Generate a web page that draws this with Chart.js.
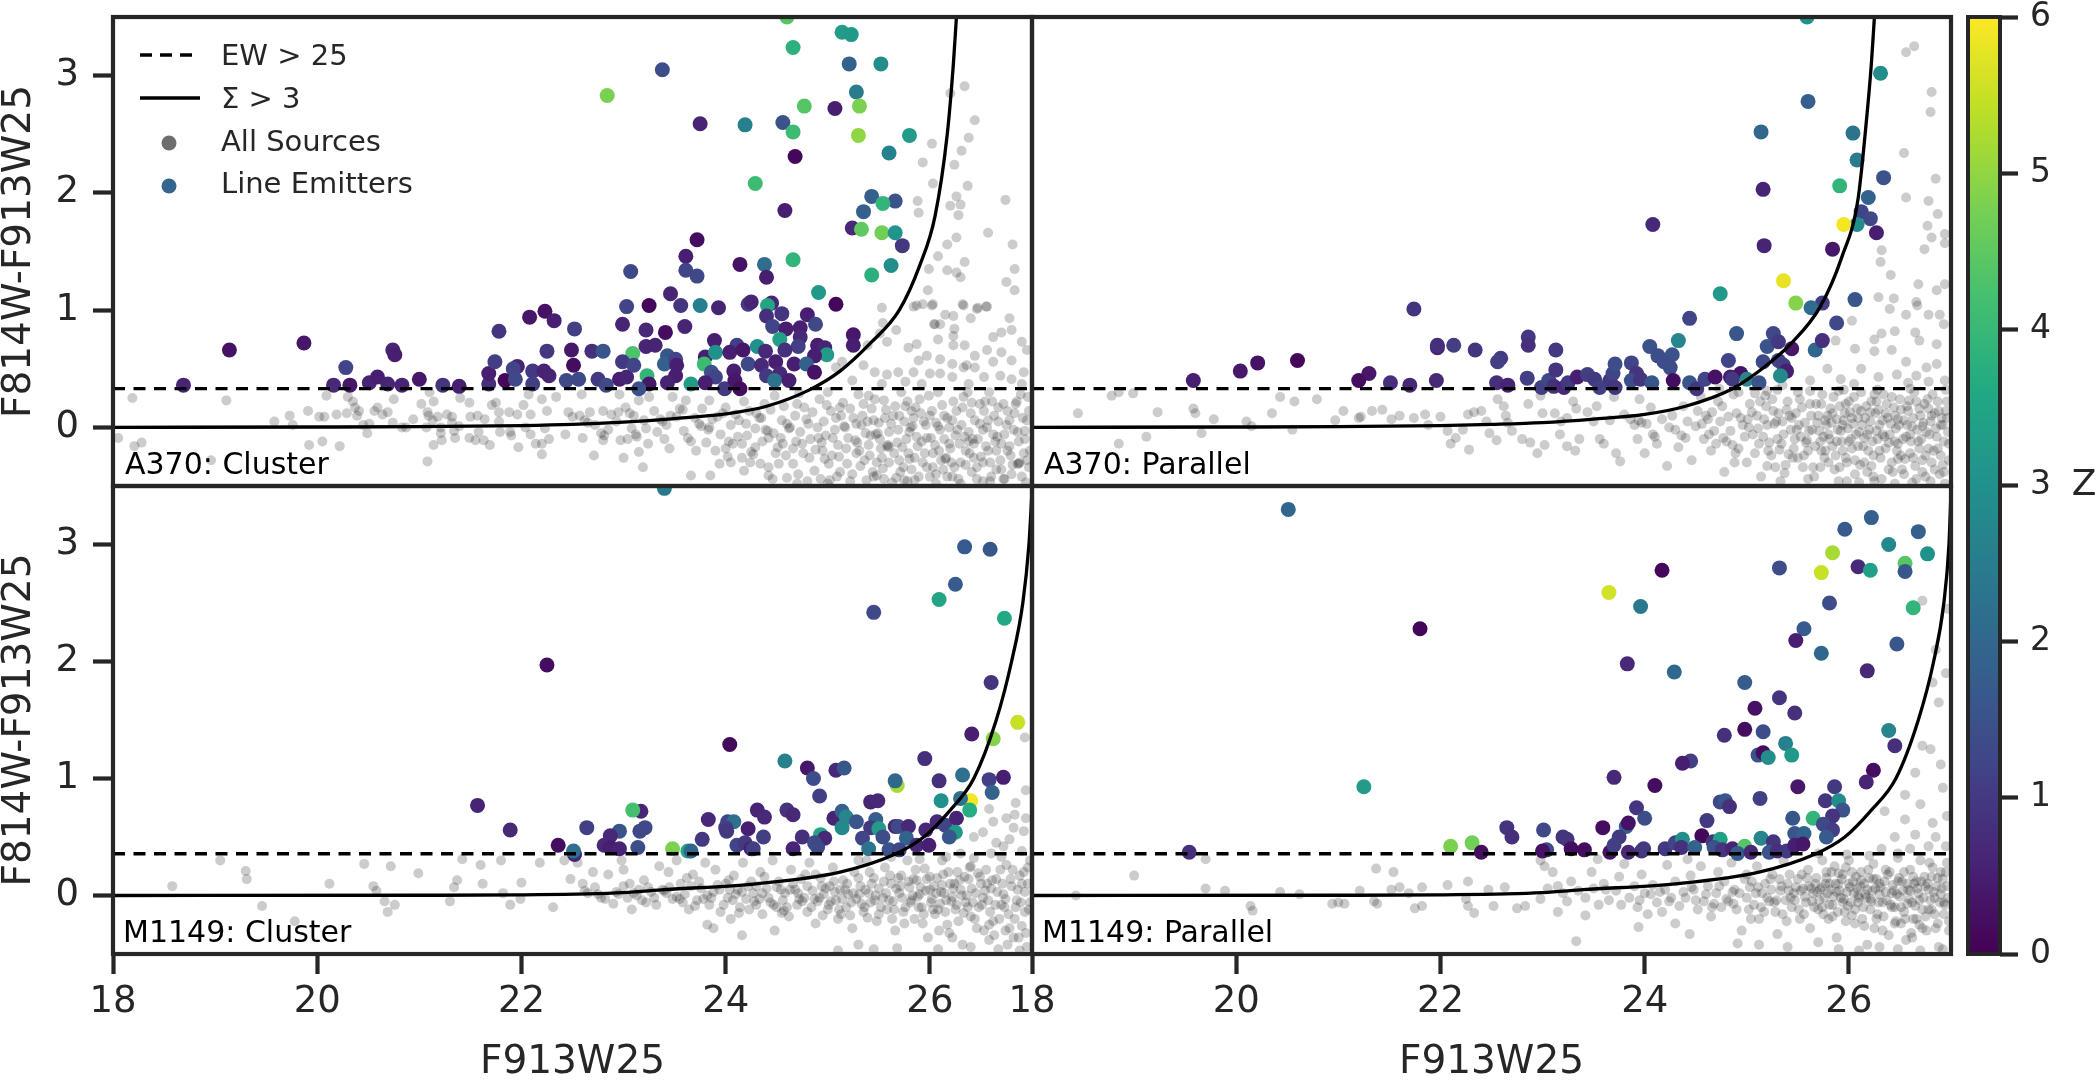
<!DOCTYPE html>
<html lang="en">
  <head>
    <meta charset="UTF-8" />
    <title>F814W-F913W25 colour magnitude</title>
    <script src="https://cdn.jsdelivr.net/npm/chart.js"></script>
    <style>
      body { margin: 0; background: #fff; }
      canvas { position: absolute; }
    </style>
  </head>
  <body>
    <canvas id="a370Cluster" width="1040" height="500" style="left:0;top:0"></canvas>
    <canvas id="a370Parallel" width="965" height="500" style="left:1000px;top:0"></canvas>
    <canvas id="m1149Cluster" width="1040" height="606" style="left:0;top:476px"></canvas>
    <canvas id="m1149Parallel" width="965" height="606" style="left:1000px;top:476px"></canvas>
    <canvas id="colorbar" width="135" height="1000" style="left:1960px;top:0"></canvas>

    <script>
      const xTicks = [18, 20, 22, 24, 26];
      const yTicks = [0, 1, 2, 3];
      const zTicks = [0, 1, 2, 3, 4, 5, 6];
      const viridisStops = ["#440154", "#482475", "#414487", "#355f8d", "#2a788e", "#21918c", "#22a884", "#44bf70", "#7ad151", "#bddf26", "#fde725"];

      const ewCutTop = 0.33;
      const ewCutBottom = 0.357;

      const a370ClusterCurve = [[18,0],[20,0.003],[21,0.006],[22,0.015],[22.5,0.025],[23,0.045],[23.5,0.075],[24,0.115],[24.4,0.18],[24.82,0.32],[25.12,0.48],[25.42,0.72],[25.7,1],[25.9,1.38],[26.05,1.8],[26.17,2.5],[26.23,3.1],[26.26,3.5]];
      const a370ParallelCurve = [[18,0],[20,0.003],[21,0.006],[22,0.015],[22.5,0.025],[23,0.04],[23.5,0.07],[24,0.11],[24.4,0.18],[24.86,0.33],[25.15,0.5],[25.45,0.73],[25.72,1.03],[25.93,1.45],[26.09,1.95],[26.17,2.6],[26.22,3.1],[26.25,3.5]];
      const m1149ClusterCurve = [[18,0],[21,0.002],[22,0.006],[23,0.025],[23.4,0.05],[24.3,0.1],[25.12,0.2],[25.65,0.35],[25.94,0.5],[26.2,0.73],[26.43,1],[26.65,1.5],[26.8,2],[26.91,2.5],[26.97,3],[27,3.45]];
      const m1149ParallelCurve = [[18,0],[21,0.002],[22,0.006],[23,0.025],[23.4,0.05],[24.3,0.1],[25.12,0.2],[25.66,0.35],[25.96,0.5],[26.22,0.73],[26.46,1],[26.68,1.5],[26.83,2],[26.93,2.5],[26.98,3],[27,3.45]];

      // [mag, colour, z]
      const a370ClusterLines = [[24.6,3.5,4.4],[25.14,3.37,3.3],[25.23,3.35,3.2],[24.66,3.24,3.8],[23.38,3.05,1.4],[25.21,3.1,1.9],[25.52,3.1,2.9],[22.84,2.83,4.8],[25.28,2.86,2.5],[24.77,2.74,4.4],[25.31,2.74,4.8],[25.07,2.72,0.5],[23.75,2.59,0.6],[24.19,2.58,2.6],[24.56,2.6,1.5],[24.66,2.52,4.1],[25.3,2.49,5],[25.8,2.49,3.3],[25.6,2.34,2.6],[24.68,2.31,0.1],[24.29,2.08,4.1],[25.43,1.97,1.8],[25.66,1.93,1.5],[25.54,1.91,3.9],[25.35,1.84,1.8],[24.58,1.85,0.5],[25.24,1.7,0.7],[25.33,1.69,4.5],[25.53,1.66,4.7],[25.66,1.66,3.1],[25.73,1.55,1],[23.72,1.6,0.2],[23.61,1.46,0.5],[23.61,1.34,1.2],[23.72,1.29,1.3],[23.07,1.33,1.3],[24.14,1.39,0.3],[24.38,1.39,2.1],[24.4,1.28,0.5],[24.66,1.43,3.9],[25.62,1.38,2.9],[25.43,1.3,3.8],[24.91,1.15,3.2],[25.08,1.05,0.1],[23.46,1.14,0.6],[23.03,1.03,1.2],[23.25,1.04,0.1],[23.56,1.04,0.9],[23.75,1.04,2.6],[23.93,1.02,0.6],[24.22,1.05,1],[24.25,1.07,0.6],[24.45,1.06,0.6],[24.41,1.04,3.5],[24.4,0.95,0.8],[24.55,0.97,0.9],[24.8,0.96,0.5],[22.23,0.99,0.3],[22.08,0.94,0.4],[22.32,0.91,0.5],[21.78,0.82,0.9],[22.52,0.84,1.1],[22.99,0.88,0.6],[23.22,0.83,0.7],[23.41,0.81,0.2],[23.6,0.86,0.6],[24.46,0.86,1.2],[24.59,0.84,0.5],[24.73,0.85,0.5],[24.88,0.88,1.3],[25.25,0.79,0.4],[25.25,0.7,0.5],[24.73,0.77,0.7],[23.89,0.74,0.5],[24.53,0.75,3.4],[24.31,0.69,3],[24.11,0.7,1.1],[23.22,0.69,0.6],[23.31,0.7,0.6],[24.71,0.69,1.1],[24.9,0.7,0.5],[24.97,0.68,0.6],[24.99,0.62,3.3],[19.14,0.66,0.3],[19.87,0.72,0.4],[20.74,0.66,0.6],[20.76,0.62,0.5],[22.25,0.65,1],[22.49,0.66,0.4],[22.69,0.65,0.8],[22.8,0.65,1.6],[23.09,0.63,4.3],[23.43,0.61,1.6],[23.8,0.6,0.5],[23.9,0.64,3],[24.04,0.64,0.5],[24.17,0.66,0.4],[24.39,0.65,0.7],[24.58,0.66,0.8],[24.87,0.61,0.5],[20.28,0.51,1.2],[18.69,0.36,0.6],[20.16,0.36,0.7],[20.32,0.36,0.4],[20.51,0.38,0.6],[20.59,0.43,0.5],[20.69,0.37,0.6],[20.83,0.36,0.6],[21,0.41,0.4],[21.23,0.36,0.9],[21.39,0.35,0.5],[21.68,0.37,0.8],[21.68,0.46,0.5],[21.84,0.4,0.1],[21.74,0.56,1.1],[21.96,0.52,0.6],[21.92,0.5,1.2],[21.94,0.41,1.3],[22.11,0.48,1],[22.11,0.37,1.1],[22.22,0.48,0.6],[22.27,0.44,0.6],[22.44,0.4,1.3],[22.56,0.41,1.3],[22.51,0.53,0.2],[22.75,0.41,1],[22.83,0.36,1.3],[22.96,0.41,0.5],[23.03,0.43,0.6],[22.99,0.56,1],[23.1,0.53,1.2],[23.23,0.44,3.9],[23.25,0.37,0.4],[23.15,0.33,1.5],[23.4,0.54,1.8],[23.51,0.58,1.2],[23.52,0.53,0.5],[23.51,0.44,0.5],[23.43,0.38,0.6],[23.66,0.37,3.3],[23.79,0.54,4.1],[23.86,0.47,1.5],[23.9,0.43,1.2],[23.8,0.38,0.5],[23.99,0.33,1],[24.08,0.48,0.5],[24.09,0.4,0.4],[24.14,0.33,0.2],[24.22,0.54,1.3],[24.35,0.53,0.7],[24.4,0.44,1],[24.49,0.56,0.5],[24.53,0.46,0.7],[24.48,0.4,2.3],[24.62,0.4,0.5],[24.67,0.54,0.5],[24.79,0.54,1.8],[24.87,0.47,0.3]];
      const a370ParallelLines = [[25.59,3.5,3],[26.31,3.02,2.9],[25.6,2.78,1.8],[25.14,2.52,2],[26.04,2.51,2.3],[26.08,2.28,2.5],[25.16,2.03,0.6],[25.91,2.06,3.9],[26.34,2.13,1.5],[26.19,1.96,1.9],[26.12,1.84,1.2],[26.21,1.78,1.3],[26.08,1.73,2.9],[25.95,1.73,5.9],[26.27,1.66,0.5],[24.08,1.73,0.7],[25.17,1.55,0.6],[25.84,1.52,0.4],[25.36,1.25,5.8],[24.74,1.14,3.2],[25.48,1.06,4.9],[25.74,1.06,1.1],[25.63,1.02,2.1],[26.06,1.09,1.6],[21.74,1.01,0.9],[24.44,0.93,1.2],[25.88,0.89,1.3],[24.9,0.8,1.6],[25.26,0.8,1.3],[24.33,0.74,2.7],[22.86,0.77,1],[22.86,0.7,0.8],[22.13,0.7,1.1],[21.97,0.68,0.6],[21.97,0.7,0.8],[22.34,0.66,0.9],[23.13,0.66,1],[22.59,0.59,1],[22.56,0.56,1.1],[24.05,0.69,1.5],[24.13,0.61,1.4],[24.27,0.62,1.5],[24.19,0.56,1.4],[24.25,0.51,1.4],[25.2,0.69,1.5],[25.31,0.73,1],[25.44,0.67,0.4],[25.67,0.66,2],[25.74,0.74,0.8],[20.6,0.57,0.1],[20.21,0.55,0.3],[20.04,0.48,0.4],[19.58,0.4,0.5],[21.3,0.46,0.4],[21.2,0.4,0.2],[21.51,0.38,0.8],[21.7,0.36,0.7],[21.96,0.4,0.7],[22.55,0.38,0.8],[22.66,0.36,0.6],[22.85,0.42,1.1],[22.99,0.34,1.1],[23.06,0.4,1.3],[23.11,0.35,0.8],[23.13,0.49,0.9],[23.21,0.34,0.7],[23.25,0.38,1],[23.34,0.43,0.5],[23.44,0.45,1.1],[23.51,0.41,1],[23.56,0.34,1.1],[23.66,0.4,1],[23.69,0.46,1.2],[23.71,0.54,1.4],[23.71,0.34,0.9],[23.87,0.55,1.2],[23.92,0.46,0.9],[23.87,0.4,1.4],[23.96,0.41,0.9],[24.07,0.38,1.6],[24.28,0.4,0.2],[24.44,0.38,1.6],[24.51,0.33,0.9],[24.59,0.41,1.2],[24.69,0.43,0.3],[24.82,0.57,1.2],[24.84,0.43,0.5],[24.94,0.46,0.3],[24.86,0.41,1],[25,0.41,2.7],[25.12,0.38,1.5],[25.16,0.56,1.3],[25.31,0.57,1.2],[25.36,0.53,1.1],[25.39,0.48,0.5],[25.33,0.44,2.8]];
      const m1149ClusterLines = [[23.4,3.48,2.4],[26.34,2.98,1.7],[26.59,2.96,1.6],[26.25,2.66,1.7],[26.09,2.53,3.5],[25.45,2.42,1.3],[26.73,2.37,3.6],[22.25,1.97,0.2],[26.6,1.82,0.9],[26.86,1.48,5.5],[26.41,1.38,0.5],[26.62,1.34,4.9],[24.04,1.29,0.1],[25.95,1.17,0.8],[24.58,1.15,2.6],[24.8,1.09,0.4],[25.08,1.07,0.7],[25.16,1.09,1.6],[24.86,1,1.4],[25.68,0.94,5.2],[25.66,0.98,2],[26.09,0.98,0.8],[26.32,1.03,2.2],[26.58,0.99,1.1],[26.72,1.01,0.5],[26.61,0.88,1.9],[24.92,0.85,1.1],[21.57,0.77,0.6],[25.42,0.8,0.6],[25.49,0.81,0.7],[26.4,0.81,5.9],[26.11,0.81,3],[26.3,0.83,2.2],[26.39,0.73,3.7],[23.17,0.72,0.6],[23.09,0.73,4.2],[24.31,0.73,0.6],[24.38,0.67,0.7],[24.6,0.73,0.9],[24.66,0.69,0.7],[23.83,0.65,0.7],[24.02,0.63,1.2],[24.08,0.63,2.2],[25.06,0.66,0.6],[25.14,0.72,1.8],[25.18,0.67,2.7],[25.28,0.63,1.6],[25.47,0.65,1.8],[21.89,0.56,0.7],[22.64,0.58,1.1],[22.96,0.55,1.5],[23.21,0.58,1.3],[23.16,0.55,1.3],[24,0.58,1.1],[24.01,0.55,1],[24.22,0.57,0.5],[25.14,0.58,2.8],[25.42,0.58,1],[25.5,0.57,3.3],[25.66,0.59,0.7],[25.69,0.59,1.3],[25.79,0.59,0.7],[25.96,0.56,0.7],[26.07,0.63,0.7],[26.15,0.6,1.2],[26.26,0.66,0.6],[26.25,0.54,3.2],[26.19,0.5,1.6],[24.93,0.52,3.5],[24.97,0.49,0.7],[24.75,0.5,0.8],[24.37,0.5,1.1],[23.77,0.48,1],[22.87,0.51,0.7],[25.34,0.49,1.2],[25.54,0.5,1.4],[25.77,0.49,1.9],[24.87,0.45,1.3],[24.9,0.41,1.3],[22.81,0.43,0.7],[22.87,0.41,0.5],[22.96,0.4,0.6],[22.36,0.43,0.2],[22.52,0.35,0.6],[22.51,0.38,2.2],[23.14,0.41,1.4],[23.48,0.4,4.8],[23.63,0.38,3.6],[23.66,0.38,2],[24.11,0.43,1.2],[24.19,0.45,1],[24.25,0.4,0.5],[24.27,0.4,1.1],[24.66,0.4,0.6],[25.4,0.4,2.3],[25.6,0.39,1.5],[25.7,0.39,1.2],[25.87,0.43,0.7],[25.99,0.43,0.5]];
      const m1149ParallelLines = [[20.51,3.3,2],[26.22,3.23,1.8],[25.96,3.13,1.7],[26.68,3.11,1.8],[26.39,3,2.8],[25.84,2.93,5.2],[26.77,2.92,3],[26.55,2.84,4.4],[26.09,2.81,0.7],[26.21,2.78,3.4],[26.55,2.77,1.6],[25.32,2.8,1.4],[24.17,2.78,0.1],[25.73,2.76,5.5],[23.65,2.59,5.6],[23.96,2.47,2.4],[26.63,2.46,3.9],[25.81,2.5,1.4],[21.8,2.28,0.1],[25.56,2.28,1.7],[25.48,2.18,0.5],[26.47,2.15,1.6],[25.73,2.07,2],[23.83,1.98,0.7],[24.29,1.91,2],[26.18,1.92,0.7],[24.98,1.82,1.7],[25.32,1.69,0.9],[25.08,1.6,0.3],[25.47,1.56,0.8],[24.98,1.42,0.2],[25.16,1.4,1.4],[24.78,1.37,0.8],[26.39,1.41,2.7],[26.45,1.28,0.8],[25.38,1.3,2.6],[25.11,1.2,1.5],[25.16,1.22,0.2],[25.21,1.18,2.9],[25.44,1.2,3.2],[24.45,1.15,1.1],[24.37,1.13,0.5],[26.24,1.07,0.2],[26.17,0.97,0.6],[21.25,0.93,3.3],[23.7,1.01,0.7],[24.1,0.94,0.2],[25.5,0.93,0.4],[25.86,0.93,1],[25.13,0.83,1.1],[24.74,0.8,1.3],[24.79,0.81,1.6],[24.83,0.76,0.8],[25.77,0.81,0.9],[25.9,0.81,2.9],[23.92,0.75,0.9],[25.94,0.73,1.5],[24,0.66,1.4],[23.82,0.59,1.8],[23.84,0.62,0.3],[24.61,0.64,1],[25.45,0.66,1.6],[25.65,0.66,3.9],[25.84,0.68,0.9],[25.75,0.61,1.3],[25.84,0.56,1.1],[22.65,0.58,0.9],[22.7,0.5,0.8],[23.01,0.56,1.3],[23.59,0.58,0.2],[23.75,0.5,1],[23.2,0.5,0.9],[23.24,0.48,0.9],[24.56,0.51,0.1],[25.14,0.49,2.7],[25.47,0.53,1.6],[25.56,0.53,1.9],[25.78,0.5,1.7],[22.1,0.42,4.8],[22.31,0.45,4.7],[19.54,0.37,0.8],[22.4,0.37,0.2],[23.04,0.39,1.4],[23,0.38,0.3],[23.28,0.4,0.2],[23.41,0.39,0.2],[23.66,0.37,0.3],[23.7,0.43,1.1],[23.84,0.37,0.7],[23.97,0.38,0.8],[23.99,0.4,1],[24.2,0.4,1],[24.3,0.45,1.2],[24.37,0.48,2.9],[24.36,0.41,0.8],[24.49,0.41,1.9],[24.67,0.46,0.9],[24.74,0.48,3.4],[24.68,0.41,1.5],[24.76,0.39,0.9],[24.86,0.4,0.6],[24.98,0.42,4.4],[24.91,0.36,1.7],[25.04,0.37,0.7],[25.26,0.46,0.9],[25.22,0.37,1.5],[25.3,0.38,0.8],[25.39,0.38,1],[25.47,0.43,0.5],[25.55,0.44,0.4]];

      // all sources, read off the crops, dense parts are estimates
      const a370ClusterAll = [[18.19,.25],[19.11,.23],[18.05,-.09],[18.21,-.16],[18.28,-.13],[18.96,-.28],[19.58,.05],[19.73,.1],[19.76,.02],[19.91,.14],[20.02,.09],[20.07,.09],[20.19,.11],[20.09,.27],[20.3,.26],[20.35,.22],[20.37,.17],[20.41,.14],[20.39,.1],[20.29,.12],[19.92,-.15],[20.05,-.12],[20.22,-.16],[20.45,.02],[20.51,.03],[20.49,-.05],[20.56,.14],[20.59,.17],[20.64,.11],[20.69,.13],[20.75,.24],[20.74,.04],[20.83,0],[20.87,0],[20.94,.07],[21.02,.2],[21.08,-.29],[21.07,0],[21.08,.13],[21.09,.1],[21.13,.06],[21.14,.22],[21.1,.3],[21.18,.09],[21.21,0],[21.21,-.05],[21.14,-.15],[21.22,-.11],[21.27,.11],[21.32,.09],[21.32,.04],[21.34,-.03],[21.35,-.09],[21.4,.25],[21.39,.01],[21.49,.21],[21.5,.09],[21.57,.1],[21.64,.07],[21.49,-.09],[21.58,-.04],[21.55,-.11],[21.63,-.11],[21.69,-.15],[21.71,.19],[21.75,.21],[21.78,.13],[21.79,-.04],[21.78,.05],[21.88,.13],[21.96,.11],[21.89,-.04],[21.9,-.07],[21.97,-.17],[22.02,.19],[22.09,.11],[22.25,.14],[22.04,0],[22.09,-.06],[22.2,-.23],[22.14,-.14],[22.2,-.14],[22.27,-.1],[22.23,-.01],[22.34,.26],[22.07,.28],[22.2,.24],[22.43,-.06],[22.46,.13],
        [22.59,.28],[22.96,.28],[23.25,.26],[23.48,.26],[23.61,.23],[23.15,.23],[23.02,.17],[23.3,.14],[22.88,.11],[22.8,.14],[22.67,.13],[22.57,.1],[22.5,.09],[23.1,.1],[23.46,.1],[23.59,-.03],[23.84,0],[23.81,-.13],[23.71,-.2],[23.04,-.1],[23.24,-.14],[23.15,-.21],[22.8,-.11],[22.6,-.09],[22.71,-.24],[23,-.26],[23.19,-.34],[23.66,-.41],[23.85,-.41],[23.94,-.31],[24.18,-.37],[24.05,-.3],[24.16,-.26],[24.42,-.34],[24.52,-.31],[24.6,-.43],[24.42,-.41],[23.84,.23],[24,.17],[24.1,.11],[24.2,.03],[24.29,-.01],[24.42,-.09],[24.55,.06],[24.62,-.01],[24.16,-.14],[24.29,-.17],[24,-.18],[24.51,-.17],[24.59,-.24],[24.75,-.14],[24.91,-.09],[24.82,-.26],[25.01,-.31],[25.17,0],[25.34,.1],[25.47,-.06],[25.58,-.16],[25.32,-.33],[25.81,0],[25.97,-.09],[26.15,-.27],[26.43,-.26],[26.87,-.31],[26.57,.06],
        [22.72,.02],[22.85,-.02],[22.93,.05],[23.08,-.01],[23.2,.06],[23.33,-.04],[23.42,.02],[23.52,.09],[23.7,.08],[23.77,.16],[23.92,.09],[23.95,-.06],[24.05,.02],[24.12,-.08],[24.23,.14],[24.35,.08],[24.38,.2],[24.47,-.05],[24.48,.27],[24.68,.1],[24.7,.2],[24.73,-.04],[24.81,.03],[24.85,.13],[24.92,.24],[24.96,.05],[25.03,.14],[25.07,-.02],[25.1,-.15],[25.15,.21],[25.2,-.09],[25.25,.08],[25.28,-.22],[25.3,.28],[25.37,-.05],[25.4,-.15],[25.43,.16],[25.5,.04],[25.53,-.26],[25.55,.23],[25.6,-.04],[25.64,.1],[25.68,-.13],[25.72,.3],[25.74,-.34],[25.76,.18],[25.79,-.22],[25.84,.08],[25.87,-.08],[25.9,.24],[25.93,-.3],[25.96,.02],[26,-.42],[26.02,.14],[26.05,-.15],[26.08,.3],[26.1,-.02],[26.13,-.36],[26.17,.08],[26.2,-.18],[26.23,.22],[26.25,-.07],[26.28,-.44],[26.31,.02],[26.35,-.2],[26.37,.3],[26.4,.12],[26.42,-.1],[26.46,-.34],[26.49,.2],[26.52,-.02],[26.55,-.16],[26.58,.3],[26.6,-.42],[26.63,.1],[26.66,-.08],[26.69,-.28],[26.72,.2],[26.75,.02],[26.78,-.16],[26.8,-.4],[26.83,.12],[26.86,-.04],[26.89,.28],[26.92,-.22],[26.95,.06],[26.97,-.34],[25.02,-.45],[24.7,-.48],[24.95,-.2],[25.12,-.38],[25.22,-.46],[25.45,-.42],[25.63,-.47],[25.85,-.45],[26.06,-.48],[26.22,-.42],[26.52,-.46],[26.72,-.44],[26.94,-.47],[25.7,-.28],[25.48,-.3],[26.3,-.3],[26.65,-.2],[26.38,-.12],
        [22.62,.06],[22.65,.04],[22.78,-.05],[22.81,-.07],[22.95,.13],[22.97,-.11],[23.06,.12],[23.12,-.06],[23.13,-.08],[23.22,-.01],[23.36,.07],[23.38,.05],[23.4,-.1],[23.45,-.18],[23.55,.16],[23.58,.15],[23.63,-.09],[23.66,-.12],[23.74,.03],[23.76,.01],[23.83,-.02],[23.87,.07],[23.9,-.2],[23.97,.12],[24.03,-.12],[24.07,-.14],[24.13,.06],[24.18,.22],[24.21,-.07],[24.25,-.21],[24.27,-.23],[24.33,.08],[24.36,-.12],[24.39,-.02],[24.41,-.03],[24.44,.15],[24.49,-.22],[24.54,-.09],[24.57,.18],[24.6,.03],[24.63,0],[24.66,-.31],[24.69,-.12],[24.72,.29],[24.76,-.22],[24.79,.07],[24.83,-.1],[24.87,-.37],[24.9,0],[24.94,-.13],[24.97,-.27],[24.99,.19],[25.05,-.09],[25.08,.08],[25.11,-.25],[25.13,.1],[25.16,.01],[25.19,-.31],[25.22,.16],[25.27,-.11],[25.29,-.13],[25.33,.02],[25.36,-.28],[25.39,.05],[25.42,-.07],[25.44,-.38],[25.46,.24],[25.49,-.05],[25.52,-.18],[25.56,.08],[25.59,-.15],[25.6,-.17],[25.66,.18],[25.69,-.02],[25.71,-.38],[25.75,.05],[25.77,-.1],[25.8,-.27],[25.82,.14],[25.83,.01],[25.88,-.16],[25.91,.12],[25.95,-.22],[25.99,.27],[26.01,-.09],[26.03,-.34],[26.06,.04],[26.09,-.2],[26.12,.19],[26.14,-.1],[26.16,-.26],[26.19,0],[26.21,-.3],[26.26,.14],[26.29,-.14],[26.33,.26],[26.34,-.08],[26.39,-.22],[26.41,-.38],[26.44,.06],[26.47,-.1],[26.5,-.25],[26.53,.14],[26.56,0],[26.59,-.3],[26.61,.22],[26.64,-.12],[26.67,.05],[26.7,-.36],[26.73,-.06],[26.76,.14],[26.79,-.24],[26.82,-.02],[26.85,.22],[26.86,-.31],[26.88,-.3],[26.91,.08],[26.93,-.1],[26.96,.26],[26.98,-.2],[25,.3],[24.8,-.46],[25.4,.27],[25,-.48],[25.55,-.44],[25.78,-.46],
        [24.3,.12],[24.02,-.25],[24.24,-.3],[24.34,-.31],[24.46,-.44],[24.56,-.14],[24.66,-.18],[24.71,-.4],[24.77,.17],[24.88,-.19],[24.93,-.44],[24.98,-.07],[25.04,-.24],[25.09,-.42],[25.12,.17],[25.18,-.18],[25.24,-.4],[25.28,.03],[25.31,-.2],[25.35,.2],[25.38,-.45],[25.41,-.24],[25.45,.06],[25.48,-.41],[25.51,-.1],[25.54,-.35],[25.57,.15],[25.6,-.3],[25.62,.03],[25.65,-.22],[25.67,-.43],[25.7,.1],[25.73,-.17],[25.75,-.45],[25.78,.22],[25.8,-.04],[25.82,-.36],[25.85,-.26],[25.86,.17],[25.89,-.42],[25.92,-.12],[25.94,.05],[25.97,-.34],[26,.1],[26.03,-.22],[26.06,-.4],[26.08,.01],[26.11,-.28],[26.14,.1],[26.17,-.42],[26.19,-.14],[26.22,.06],[26.24,-.34],[26.27,-.02],[26.3,-.48],[26.32,.17],[26.35,-.32],[26.38,-.04],[26.41,.21],[26.43,-.14],[26.46,-.44],[26.49,.03],[26.52,-.3],[26.54,.22],[26.57,-.2],[26.59,-.46],[26.62,-.06],[26.65,-.36],[26.67,.17],[26.7,-.14],[26.73,-.44],[26.76,-.2],[26.78,.06],[26.81,-.32],[26.84,.2],[26.87,-.12],[26.9,-.42],[26.93,-.03],[26.95,-.28],[26.97,.14],
        [25.53,1.02],[25.84,1.03],[25.93,1.05],[26.03,1.05],[26.15,.96],[26.23,.95],[26.32,1.05],[26.47,1.02],[26.56,1.03],[26.78,.93],[25.54,.89],[26.04,.88],[26.1,.88],[26.24,.84],[26.23,.78],[26.4,.93],[25.51,.8],[25.67,.83],[25.58,.73],[25.39,.7],[25.79,.68],[25.87,.71],[26.08,.75],[26.23,.7],[26.34,.7],[26.62,.77],[26.7,.81],[26.8,.83],[26.9,.73],[25.97,.61],[25.89,.57],[26.1,.58],[26.22,.54],[26.36,.53],[26.44,.61],[26.56,.66],[26.7,.64],[26.62,.56],[26.8,.57],[26.95,.66],[26.33,.51],[26.44,.51],[26.92,.47],[26.8,.41],[25.84,.47],[26,.46],[26.1,.46],[26.22,.43],[26.53,.43],[26.69,.44],[25.69,.47],[25.58,.45],[25.46,.47],[25.35,.53],[25.14,.56],[25.08,.51],[25.24,.4],[25.53,.37],[25.76,.39],[25.92,.37],[26.9,.37],[26.38,.37],
        [26.34,2.91],[26.2,2.85],[26.44,2.62],[26.38,2.47],[26.02,2.42],[26.31,2.36],[25.93,2.26],[26.24,2.24],[26.37,2.06],[26.03,2.08],[26.74,1.94],[25.88,1.93],[26.26,1.97],[26.2,1.89],[26.3,1.9],[25.89,1.83],[26.28,1.81],[26.57,1.66],[26.26,1.62],[26.17,1.56],[26.81,1.56],[26.08,1.46],[26.34,1.41],[25.99,1.35],[26.17,1.34],[26.26,1.32],[26.83,1.35],[26.3,1.28],[26.75,1.24],[25.98,1.17],[26.83,1.17],[25.87,1.04],[26.02,1.04],[26.33,1.04],[26.55,1.03],[26.46,1.01],[26.05,.88]];

      const a370ParallelAll = [[18.85,.3],[18.78,.27],[18.45,.12],[18.99,.29],[19.23,.13],[19.58,.16],[19.6,.12],[19.12,-.08],[18.85,-.14],[19.66,-.05],[19.78,.07],[20.1,.05],[20.15,.01],[20.35,.12],[20.43,.26],[20.57,.22],[20.79,.24],[20.55,-.02],[20.97,.06],[21.05,.14],[21.22,.09],[21.33,.14],[21.2,.08],[21.43,.15],[21.52,.07],[21.6,.1],[21.74,.08],[21.85,.11],[21.88,.02],[22,.09],[22.07,-.03],[22.1,-.14],[22.15,-.09],[22.22,-.02],[22.27,.11],[22.33,.13],[22.4,.14],[22.28,-.19],[22.45,.05],[22.48,-.05],[22.56,.24],[22.62,.18],[22.64,.1],[22.66,.04],[22.7,-.03],[22.8,-.1],[22.86,.2],[22.88,-.13],[22.98,.27],[23,.12],[22.95,-.22],[23.02,-.15],[22.55,-.11],[23.12,.12],[23.17,-.06],[23.18,.05],[23.24,.08],[23.24,-.16],[23.3,.22],[23.33,.16],[23.36,-.1],[23.32,-.2],[23.44,.13],[23.5,.05],[23.53,.18],[23.56,-.1],[23.6,-.14],[23.66,.06],[23.7,.26],[23.72,-.22],[23.76,-.29],[23.8,.11],[23.86,.07],[23.9,.02],[23.93,-.1],[23.95,.24],[24,-.22],[24.02,.03],[24.06,.17],[24.12,-.14],[24.17,.07],[24.22,-.33],[24.27,.1],[24.3,-.02],[24.33,-.17],[24.38,.18],[24.42,.05],[24.46,-.28],[24.5,.01],[24.55,.26],[24.58,-.1],[24.6,.1],[24.65,-.2],[24.68,-.03],[24.72,.22],[24.74,.05],[24.78,-.38],[24.8,-.12],[24.84,-.03],[24.87,.28],[24.9,.12],[24.92,-.18],[24.96,.02],[25,-.3],[25.03,.2],[25.06,-.06],[25.1,.1],[25.12,-.14],[25.14,-.42],[25.18,.27],[25.2,.02],[25.24,-.24],[25.26,.14],[25.3,-.1],[25.33,-.46],[25.35,.05],[25.38,-.32],[25.4,.22],[25.43,-.02],[25.46,-.18],[25.48,.12],[25.5,.3],[25.53,-.08],[25.55,-.34],[25.57,.04],[25.6,-.2],[25.62,.2],[25.64,-.02],[25.66,-.42],[25.7,.1],[25.72,-.12],[25.74,.28],[25.76,-.26],[25.78,.02],[25.8,-.06],[25.82,.16],[25.84,-.16],[25.86,-.36],[25.88,.07],[25.9,.31],[25.92,-.03],[25.94,-.2],[25.96,.12],[25.98,-.46],[26,.22],[26.02,-.1],[26.04,.03],[26.06,-.28],[26.08,.16],[26.1,-.04],[26.12,.3],[26.14,-.16],[26.16,.08],[26.18,-.38],[26.2,-.02],[26.22,.22],[26.24,-.24],[26.26,.12],[26.28,-.1],[26.3,.02],[26.32,-.44],[26.34,.28],[26.36,-.18],[26.38,.08],[26.4,-.06],[26.42,-.3],[26.44,.17],[26.46,-.01],[26.48,-.14],[26.5,.24],[26.52,-.36],[26.54,.06],[26.56,-.08],[26.58,.14],[26.6,-.22],[26.62,.01],[26.64,.3],[26.66,-.44],[26.68,-.12],[26.7,.1],[26.72,-.28],[26.74,.2],[26.76,-.04],[26.78,-.18],[26.8,.05],[26.82,.28],[26.84,-.36],[26.86,-.08],[26.88,.14],[26.9,-.24],[26.92,.02],[26.94,-.48],[26.96,.22],[26.98,-.14],[25.2,.31],[24.92,.3],[24.73,.33],[25.08,.29],[25.3,.32],[25.62,.31],[25.95,.32],[26.28,.32],[26.6,.33],[26.95,.32],[25.6,-.44],[25.9,-.46],[26.1,-.47],[26.25,-.46],[26.45,-.48],[26.62,-.47],[26.8,-.46],[24.88,-.3],[25.2,-.33],[25.5,-.26],[25.72,-.34],[25.98,-.3],[26.22,-.33],[26.48,-.27],[26.72,-.38],[26.92,-.32],
        [23.94,.06],[23.97,.04],[24.08,-.06],[24.1,-.08],[24.24,0],[24.36,-.07],[24.4,-.09],[24.52,.14],[24.56,.03],[24.63,-.06],[24.66,.13],[24.77,-.09],[24.82,.09],[24.86,-.15],[24.94,.08],[24.98,-.08],[25.02,0],[25.05,.13],[25.08,-.22],[25.11,-.01],[25.16,-.08],[25.19,.18],[25.22,-.13],[25.27,.03],[25.29,.05],[25.32,-.19],[25.36,-.06],[25.39,.15],[25.41,-.23],[25.44,.08],[25.47,-.1],[25.51,.02],[25.54,.17],[25.58,-.13],[25.59,-.11],[25.63,.1],[25.67,-.16],[25.69,.04],[25.71,-.03],[25.73,.2],[25.75,-.08],[25.77,-.2],[25.79,.1],[25.81,-.1],[25.83,.04],[25.85,.26],[25.87,-.24],[25.89,-.02],[25.91,.18],[25.93,-.12],[25.95,.06],[25.97,-.26],[25.99,-.01],[26.01,.13],[26.03,-.18],[26.05,.26],[26.07,-.06],[26.09,.08],[26.11,-.32],[26.13,.02],[26.15,-.09],[26.17,.18],[26.19,-.2],[26.21,.05],[26.23,-.12],[26.25,.28],[26.27,-.03],[26.29,.15],[26.31,-.26],[26.33,.06],[26.35,-.08],[26.37,.2],[26.39,-.13],[26.41,.03],[26.43,-.38],[26.45,.1],[26.47,-.2],[26.49,.02],[26.51,.15],[26.53,-.1],[26.55,-.27],[26.57,.02],[26.59,.23],[26.61,-.12],[26.63,.08],[26.65,-.33],[26.67,-.02],[26.69,.16],[26.71,-.1],[26.73,.04],[26.75,-.24],[26.77,.24],[26.79,-.06],[26.81,.1],[26.83,-.2],[26.85,-.01],[26.87,.22],[26.89,-.4],[26.91,.08],[26.93,-.12],[26.95,.14],[26.97,-.04],
        [24.62,.07],[24.7,-.14],[24.76,.18],[24.89,-.22],[25.01,.07],[25.13,.22],[25.17,.07],[25.21,-.2],[25.25,.24],[25.28,-.34],[25.31,.12],[25.34,-.14],[25.37,-.39],[25.42,.1],[25.45,-.26],[25.49,-.02],[25.52,.24],[25.56,-.24],[25.61,-.03],[25.65,-.34],[25.68,.2],[25.73,-.2],[25.77,.06],[25.8,-.3],[25.84,.12],[25.88,-.12],[25.91,-.34],[25.94,.02],[25.97,.2],[26,-.12],[26.03,.08],[26.06,-.4],[26.09,-.16],[26.12,.14],[26.15,-.3],[26.18,-.06],[26.21,.13],[26.24,-.42],[26.27,.22],[26.3,-.2],[26.33,-.06],[26.36,.12],[26.39,-.36],[26.42,.26],[26.45,-.12],[26.48,.07],[26.51,-.24],[26.54,-.4],[26.57,.18],[26.6,-.06],[26.63,-.26],[26.66,.22],[26.69,-.18],[26.72,.01],[26.75,-.42],[26.78,.16],[26.81,-.3],[26.84,.12],[26.87,-.18],[26.9,.02],[26.93,-.38],[26.96,.08],[26.98,-.28],
        [26.64,3.25],[26.56,3.2],[26.81,2.86],[26.8,2.69],[26.54,2.34],[26.85,2.12],[26.56,1.96],[26.78,1.93],[26.87,1.82],[26.77,1.72],[26.94,1.65],[26.81,1.62],[26.94,1.57],[26.74,1.52],[26.32,1.51],[26.31,1.41],[26.41,1.3],[26.68,1.22],[26.86,1.17],[26.94,1.22],[26.29,1.11],[26.44,1.1],[26.66,1.07],[26.4,1.01],[26.56,.96],[26.67,1.04],[26.78,.96],[26.89,.96],[26.93,.88],[26.03,.91],[26.32,.8],[26.25,.75],[26.45,.82],[26.65,.81],[26.86,.71],[26.69,.74],[25.87,.74],[26.25,.65],[26.06,.67],[26.42,.66],[26.56,.56],[26.86,.54],[26.76,.51],[25.79,.5],[26.12,.5],[26.29,.43],[26.66,.44],[26.94,.4],[25.92,.41],[25.62,.4],[26.47,.45],[26.58,.38],[26.78,.39],[26.05,.37],[25.35,.36]];

      const m1149ClusterAll = [[18.58,.08],[19.05,.3],[19.3,.21],[19.31,.14],[19.46,-.09],[19.78,-.22],[20.12,.1],[20.46,.27],[20.72,.25],[20.55,.08],[20.58,.04],[20.66,-.05],[20.69,-.14],[20.76,-.08],[20.99,.19],[21.3,-.05],[21.34,.07],[21.37,.13],[21.42,.31],[21.6,.26],[21.62,.1],[21.8,.3],[22.18,.28],[22,.11],[21.82,.02],[21.89,-.08],[21.99,-.03],[22.31,-.1],
        [22.55,.28],[22.42,.3],[22.48,.14],[22.6,.1],[22.7,.2],[22.72,.07],[22.75,.01],[22.82,-.03],[22.85,.18],[22.9,-.07],[22.98,.3],[23,.22],[23,.08],[23.04,-.02],[23.08,-.12],[23.15,.05],[23.18,-.04],[23.2,.13],[23.27,.03],[23.32,-.08],[23.35,.25],[23.42,.02],[23.44,.2],[23.48,-.03],[23.52,.3],[23.56,.1],[23.6,.01],[23.64,-.12],[23.68,.18],[23.72,-.04],[23.76,.06],[23.8,.28],[23.84,-.08],[23.88,.03],[23.9,.22],[23.95,-.14],[24,.1],[24.02,-.02],[24.05,-.2],[24.08,.17],[24.1,.01],[24.14,-.1],[24.17,.28],[24.2,-.03],[24.25,.12],[24.27,.02],[24.3,-.08],[24.34,.2],[24.36,-.16],[24.4,.06],[24.42,-.02],[24.46,.3],[24.5,-.1],[24.52,.12],[24.56,-.04],[24.58,.02],[24.62,-.18],[24.64,.22],[24.68,.05],[24.7,-.08],[24.74,.14],[24.77,-.02],[24.8,-.14],[24.82,.28],[24.85,.04],[24.88,-.24],[24.9,-.05],[24.93,.15],[24.96,.01],[25,-.12],[25.02,.08],[25.05,.24],[25.08,-.04],[25.1,-.2],[25.12,.05],[25.15,.13],[25.18,-.1],[25.2,.01],[25.24,-.28],[25.26,.2],[25.28,-.03],[25.32,.08],[25.35,-.14],[25.38,.3],[25.4,.02],[25.42,-.06],[25.45,.15],[25.48,-.22],[25.5,.06],[25.54,-.02],[25.56,.24],[25.58,-.12],[25.62,.1],[25.64,-.05],[25.66,-.3],[25.7,.02],[25.72,.17],[25.74,-.14],[25.78,.3],[25.8,.07],[25.82,-.04],[25.85,-.2],[25.87,.13],[25.9,.01],[25.92,-.1],[25.95,.23],[25.98,-.36],[26,.05],[26.02,-.03],[26.05,-.16],[26.07,.15],[26.1,-.07],[26.12,.3],[26.14,.02],[26.17,-.25],[26.2,.1],[26.22,-.01],[26.25,-.12],[26.27,.2],[26.3,.05],[26.32,-.42],[26.35,-.06],[26.38,.14],[26.4,-.18],[26.43,.32],[26.45,.02],[26.48,-.1],[26.5,.1],[26.53,-.3],[26.55,.22],[26.57,-.04],[26.6,.06],[26.62,-.22],[26.65,.14],[26.67,-.46],[26.7,-.08],[26.72,.01],[26.75,.26],[26.77,-.16],[26.8,.08],[26.82,-.36],[26.85,-.04],[26.88,.17],[26.9,-.26],[26.93,.03],[26.95,-.44],[26.97,-.12],[26.98,.3],[25.62,.33],[25.3,.3],[25.9,.31],[26.16,.33],[26.4,.25],[26.7,.33],[25.3,-.42],[25.1,-.47],[25.45,-.46],[25.68,-.45],[26.08,-.46],[26.22,-.36],[26.4,-.44],[26.58,-.38],[26.74,-.3],[26.88,-.47],[24.48,-.3],[24.16,-.34],[23.82,-.25],[23.88,-.28],[24.55,-.15],
        [22.62,.04],[22.65,.02],[22.78,-.02],[22.93,.03],[22.95,.01],[23.1,.02],[23.13,0],[23.24,.07],[23.3,-.02],[23.38,.05],[23.4,.04],[23.52,-.01],[23.55,-.03],[23.66,.08],[23.7,-.09],[23.74,.12],[23.82,0],[23.86,-.02],[23.94,.05],[23.98,-.08],[24.03,.13],[24.07,-.04],[24.12,.05],[24.16,.03],[24.23,-.12],[24.3,.08],[24.33,-.03],[24.38,.16],[24.44,-.06],[24.47,-.08],[24.54,.05],[24.6,-.1],[24.66,.1],[24.72,-.03],[24.75,-.05],[24.8,.08],[24.84,-.1],[24.88,.18],[24.92,-.02],[24.95,-.17],[24.98,.06],[25.03,-.05],[25.06,.12],[25.11,-.12],[25.14,-.03],[25.17,.05],[25.22,-.17],[25.25,.02],[25.3,.15],[25.33,-.07],[25.37,.05],[25.39,-.19],[25.43,.1],[25.47,0],[25.52,-.1],[25.55,.12],[25.6,-.04],[25.63,-.2],[25.67,.06],[25.69,.15],[25.73,-.02],[25.76,-.1],[25.79,.12],[25.83,0],[25.86,.22],[25.89,-.1],[25.91,.07],[25.94,-.16],[25.97,.14],[26.01,-.06],[26.04,.08],[26.08,-.12],[26.11,.03],[26.13,.18],[26.16,-.04],[26.19,-.32],[26.23,.06],[26.26,-.08],[26.29,.13],[26.33,-.15],[26.36,0],[26.39,.24],[26.42,-.06],[26.46,-.28],[26.49,.16],[26.52,-.02],[26.56,.1],[26.59,-.14],[26.63,-.34],[26.66,.03],[26.69,.22],[26.73,-.1],[26.76,-.42],[26.79,.14],[26.83,-.2],[26.86,.05],[26.89,-.06],[26.92,.2],[26.94,-.32],[26.96,.1],
        [23.06,.1],[23.22,-.06],[23.45,.07],[23.58,-.06],[23.62,.15],[23.78,-.03],[23.92,.09],[24.04,.05],[24.13,-.15],[24.22,.08],[24.28,-.05],[24.36,.02],[24.5,.07],[24.57,-.13],[24.63,.05],[24.71,.02],[24.78,.18],[24.87,-.03],[24.94,.08],[25.01,-.08],[25.07,.03],[25.13,-.16],[25.19,.1],[25.23,-.06],[25.31,.01],[25.36,-.1],[25.41,.2],[25.46,-.04],[25.5,-.16],[25.57,.02],[25.61,.17],[25.65,-.12],[25.71,.08],[25.75,-.24],[25.81,-.06],[25.84,.14],[25.88,-.01],[25.93,-.24],[25.96,.04],[26,.16],[26.03,-.12],[26.06,.02],[26.09,-.3],[26.12,.09],[26.15,-.14],[26.18,.2],[26.21,-.05],[26.24,.1],[26.28,-.22],[26.31,0],[26.34,.16],[26.37,-.1],[26.41,.06],[26.44,-.2],[26.47,.19],[26.51,-.08],[26.54,.04],[26.58,-.25],[26.61,.13],[26.64,-.08],[26.68,-.2],[26.71,.1],[26.74,-.03],[26.78,-.28],[26.81,.22],[26.84,-.1],[26.87,-.36],[26.9,.1],[26.93,-.14],[26.96,.24],[26.98,-.06],
        [26.93,1.35],[26.94,.9],[26.84,.79],[26.58,.74],[26.83,.69],[26.75,.66],[26.62,.63],[26.43,.5],[26.52,.54],[26.78,.48],[26.65,.45],[26.94,.66],[26.82,.58],[26.92,.55],[26.6,.36],[26.3,.36],[26.9,.38],[26.72,.42]];

      const m1149ParallelAll = [[18.43,0],[19,.17],[19.7,.31],[19.7,.06],[19.89,.04],[20.43,.03],[20.62,.01],[20.14,-.09],[20.16,-.13],[20.94,-.07],[21,-.06],[21.06,-.07],[21.21,.04],[21.35,-.05],[21.38,-.07],[21.37,.23],[21.54,.2],[21.6,.07],[21.52,.05],[21.69,.02],[21.82,.07],[21.75,-.11],[21.82,-.09],[22.07,.09],[22.27,.12],[22.25,-.03],[22.27,-.09],[22.33,-.15],[22.52,-.09],[22.47,.05],[22.63,.07],[22.75,-.11],[22.83,-.09],[22.98,-.03],[23.15,-.14],[23.33,-.39],[23.42,-.17],[23.94,-.27],[24.3,-.24],[24.44,-.33],[24.91,-.41],
        [22.98,.3],[23.02,.25],[23.1,.2],[23.05,.06],[23.15,.08],[23.2,.02],[23.24,-.05],[23.28,.12],[23.35,.04],[23.42,-.02],[23.48,.2],[23.5,.06],[23.54,.31],[23.55,-.08],[23.6,.1],[23.65,-.04],[23.72,.04],[23.75,.16],[23.77,-.08],[23.8,.27],[23.85,-.02],[23.9,.08],[23.93,-.1],[23.97,.18],[24,.02],[24.03,-.16],[24.08,.09],[24.12,-.06],[24.17,-.14],[24.2,.05],[24.22,.26],[24.26,-.02],[24.3,.12],[24.34,-.09],[24.4,-.02],[24.42,.31],[24.45,.17],[24.48,.05],[24.52,-.12],[24.55,.25],[24.58,-.05],[24.62,.08],[24.65,-.18],[24.7,.02],[24.72,.2],[24.75,-.1],[24.78,.12],[24.8,-.03],[24.85,.28],[24.88,.05],[24.9,-.12],[24.95,-.3],[24.98,.14],[25,-.02],[25.03,.07],[25.07,-.08],[25.1,.25],[25.12,-.2],[25.15,.02],[25.18,.1],[25.22,-.05],[25.25,.18],[25.28,-.14],[25.3,-.33],[25.33,.04],[25.36,.3],[25.38,-.04],[25.4,.1],[25.44,-.1],[25.46,.02],[25.5,.14],[25.52,-.2],[25.55,.06],[25.58,-.06],[25.6,.22],[25.62,-.28],[25.65,.02],[25.67,.1],[25.7,-.12],[25.72,.05],[25.74,.3],[25.76,-.02],[25.78,.15],[25.8,-.2],[25.82,.05],[25.84,-.08],[25.86,.25],[25.88,-.36],[25.9,.1],[25.92,-.02],[25.94,.18],[25.96,-.14],[25.98,.03],[26,.3],[26.02,-.06],[26.04,.12],[26.06,-.24],[26.08,.06],[26.1,-.02],[26.12,.2],[26.14,-.1],[26.16,.01],[26.18,-.42],[26.2,.15],[26.22,-.05],[26.24,.27],[26.26,.06],[26.28,-.16],[26.3,.01],[26.33,-.3],[26.35,.12],[26.37,-.04],[26.4,.2],[26.42,-.1],[26.44,.04],[26.46,-.22],[26.48,.32],[26.5,-.01],[26.52,.12],[26.54,-.14],[26.56,-.38],[26.58,.05],[26.6,.22],[26.62,-.06],[26.64,.1],[26.66,-.2],[26.68,.02],[26.7,.3],[26.72,-.12],[26.74,.16],[26.76,-.3],[26.78,.05],[26.8,-.04],[26.82,.24],[26.84,-.16],[26.86,.08],[26.88,-.44],[26.9,.01],[26.92,.14],[26.94,-.08],[26.96,.28],[26.98,-.22],[25.4,-.44],[25.12,-.42],[25.7,-.4],[25.9,-.46],[26.1,-.47],[26.3,-.44],[26.48,-.46],[26.7,-.47],[26.92,-.46],[26.62,-.36],
        [23.62,.05],[23.95,-.04],[24.06,.01],[24.15,.03],[24.24,-.05],[24.38,.03],[24.5,-.04],[24.6,.01],[24.68,-.07],[24.73,.08],[24.82,-.05],[24.87,-.07],[24.93,.02],[25.02,-.12],[25.05,.12],[25.09,.02],[25.14,-.1],[25.2,-.02],[25.24,.05],[25.27,-.06],[25.32,.14],[25.35,-.16],[25.41,.04],[25.43,-.02],[25.48,.07],[25.51,-.12],[25.54,.18],[25.57,-.01],[25.61,.08],[25.63,.06],[25.66,-.1],[25.68,.15],[25.71,-.04],[25.73,.07],[25.75,-.16],[25.77,.1],[25.79,.02],[25.81,-.08],[25.83,.2],[25.85,-.01],[25.87,.1],[25.89,-.14],[25.91,.04],[25.93,.14],[25.95,-.03],[25.97,.24],[25.99,-.09],[26.01,.07],[26.03,-.17],[26.05,.02],[26.07,.16],[26.09,-.06],[26.11,.08],[26.13,-.2],[26.15,.1],[26.17,-.02],[26.19,.22],[26.21,-.12],[26.23,.04],[26.25,-.28],[26.27,.14],[26.29,-.06],[26.31,.07],[26.34,-.18],[26.36,.03],[26.38,.18],[26.41,-.08],[26.43,.09],[26.45,-.24],[26.47,.01],[26.49,.15],[26.51,-.1],[26.53,.04],[26.55,-.2],[26.57,.1],[26.59,-.03],[26.61,-.32],[26.63,.16],[26.65,-.09],[26.67,.06],[26.69,-.25],[26.71,.12],[26.73,-.02],[26.75,-.18],[26.77,.1],[26.79,.28],[26.81,-.12],[26.83,.03],[26.85,-.28],[26.87,.15],[26.89,-.06],[26.91,.06],[26.93,-.16],[26.95,.2],[26.97,-.02],
        [24.46,.07],[24.66,-.1],[24.86,.03],[25,.18],[25.04,-.2],[25.11,.07],[25.17,-.14],[25.23,.14],[25.29,-.04],[25.34,.08],[25.39,-.22],[25.42,.18],[25.47,-.04],[25.53,.04],[25.56,-.16],[25.59,.15],[25.64,-.05],[25.69,.03],[25.74,-.1],[25.78,.2],[25.81,.1],[25.84,-.18],[25.88,.03],[25.9,.19],[25.94,-.06],[25.97,-.22],[26,.1],[26.03,.2],[26.06,-.12],[26.09,0],[26.12,.13],[26.15,-.26],[26.18,.05],[26.21,-.03],[26.24,.14],[26.27,-.2],[26.3,.1],[26.33,-.06],[26.36,.22],[26.39,-.34],[26.42,.02],[26.45,-.1],[26.48,.12],[26.51,-.24],[26.54,.2],[26.57,-.07],[26.6,.04],[26.63,-.2],[26.66,.12],[26.69,-.04],[26.72,-.28],[26.75,.08],[26.78,-.12],[26.81,.16],[26.84,-.02],[26.87,-.24],[26.9,.2],[26.93,-.06],[26.96,.08],[26.98,-.3],
        [26.97,2.45],[26.72,2.52],[26.85,2.1],[26.95,1.9],[26.82,1.82],[26.88,1.65],[26.72,1.28],[26.8,1.25],[26.9,1.12],[26.65,1.05],[26.55,.86],[26.92,.92],[26.7,.78],[26.35,.72],[26.55,.65],[26.82,.62],[26.96,.68],[26.45,.5],[26.65,.52],[26.85,.5],[26.32,.4],[26.6,.4],[26.78,.42],[26.95,.42],[25.7,.36],[26.48,.36],[25.98,.35],[26.2,.34]];

      Chart.defaults.font.family = "'DejaVu Sans'";
      Chart.defaults.color = "#262626";
      Chart.defaults.animation = false;
      Chart.defaults.responsive = false;
      Chart.defaults.devicePixelRatio = 1;

      const spine = "#262626";

      function hexRgb(h) {
        return [1, 3, 5].map((i) => parseInt(h.slice(i, i + 2), 16));
      }

      function viridis(z) {
        const t = (Math.min(Math.max(z, 0), 6) / 6) * (viridisStops.length - 1);
        const i = Math.min(Math.floor(t), viridisStops.length - 2);
        const a = hexRgb(viridisStops[i]);
        const b = hexRgb(viridisStops[i + 1]);
        const c = a.map((v, k) => Math.round(v + (b[k] - v) * (t - i)));
        return `rgb(${c[0]},${c[1]},${c[2]})`;
      }

      function xy(rows) {
        return rows.map((r) => ({ x: r[0], y: r[1] }));
      }

      // spines on all four sides + the panel label in the corner
      const framePlugin = {
        id: "frame",
        afterDatasetsDraw(chart, args, opts) {
          const { ctx, chartArea: a } = chart;
          ctx.save();
          ctx.strokeStyle = spine;
          ctx.lineWidth = 4.2;
          ctx.strokeRect(a.left, a.top, a.right - a.left, a.bottom - a.top);
          ctx.fillStyle = "#000";
          ctx.font = "30px 'DejaVu Sans'";
          ctx.textBaseline = "alphabetic";
          ctx.fillText(opts.label, a.left + opts.labelX, a.bottom - 12);
          ctx.restore();
        },
      };

      const legendPlugin = {
        id: "cornerLegend",
        afterDatasetsDraw(chart) {
          const { ctx } = chart;
          ctx.save();
          ctx.strokeStyle = "#000";
          ctx.lineWidth = 3.3;
          ctx.setLineDash([12, 8]);
          ctx.beginPath();
          ctx.moveTo(140, 55);
          ctx.lineTo(200, 55);
          ctx.stroke();
          ctx.setLineDash([]);
          ctx.beginPath();
          ctx.moveTo(140, 98);
          ctx.lineTo(200, 98);
          ctx.stroke();
          ctx.fillStyle = "#6e6e6e";
          ctx.beginPath();
          ctx.arc(169, 143, 7.5, 0, 2 * Math.PI);
          ctx.fill();
          ctx.fillStyle = "#35648f";
          ctx.beginPath();
          ctx.arc(169, 186, 7.5, 0, 2 * Math.PI);
          ctx.fill();
          ctx.fillStyle = spine;
          ctx.font = "29px 'DejaVu Sans'";
          ctx.textBaseline = "middle";
          ctx.fillText("EW > 25", 221, 57);
          ctx.fillText("\u03A3 > 3", 221, 100);
          ctx.fillText("All Sources", 221, 143);
          ctx.fillText("Line Emitters", 221, 185);
          ctx.restore();
        },
      };

      function panel(id, all, lines, curve, cut, o) {
        const plugins = [framePlugin];
        if (o.legend) plugins.push(legendPlugin);
        new Chart(document.getElementById(id), {
          type: "scatter",
          data: {
            datasets: [
              { data: xy(curve), showLine: true, borderColor: "#000", borderWidth: 3.3, pointRadius: 0, cubicInterpolationMode: "monotone", order: 0, clip: 0 },
              { data: [{ x: 18, y: cut }, { x: 27, y: cut }], showLine: true, borderColor: "#000", borderWidth: 3.3, borderDash: [12, 8.5], pointRadius: 0, order: 0, clip: 0 },
              { data: xy(lines), pointRadius: 7.5, pointBorderWidth: 0, pointBackgroundColor: lines.map((r) => viridis(r[2])), order: 1, clip: 0 },
              { data: xy(all), pointRadius: 5, pointBorderWidth: 0, pointBackgroundColor: "rgba(0,0,0,0.2)", order: 2, clip: 0 },
            ],
          },
          options: {
            layout: { padding: o.padding },
            plugins: {
              legend: { display: false },
              tooltip: { enabled: false },
              frame: { label: o.label, labelX: o.labelX },
            },
            scales: {
              x: {
                min: 18,
                max: 27,
                display: o.xAxis,
                afterBuildTicks: (s) => { s.ticks = xTicks.map((v) => ({ value: v })); },
                afterFit: (s) => {
                  if (o.xAxis) s.height = 128;
                  s.paddingLeft = 0;
                  s.paddingRight = 0;
                },
                border: { display: false },
                grid: { drawOnChartArea: false, tickLength: 20, tickWidth: 4.2, tickColor: spine },
                ticks: { font: { size: 37 }, padding: 6, maxRotation: 0, callback: (v) => String(v) },
                title: { display: true, text: "F913W25", font: { size: 39, lineHeight: 1 }, padding: 0 },
              },
              y: {
                min: -0.5,
                max: 3.5,
                display: o.yAxis,
                afterBuildTicks: (s) => { s.ticks = yTicks.map((v) => ({ value: v })); },
                afterFit: (s) => {
                  if (o.yAxis) s.width = 113;
                  s.paddingTop = 0;
                  s.paddingBottom = 0;
                },
                border: { display: false },
                grid: { drawOnChartArea: false, tickLength: 20, tickWidth: 4.2, tickColor: spine },
                ticks: { font: { size: 37 }, padding: 14, callback: (v) => String(v) },
                title: { display: true, text: "F814W-F913W25", font: { size: 39, lineHeight: 1 }, padding: 0 },
              },
            },
          },
          plugins: plugins,
        });
      }

      panel("a370Cluster", a370ClusterAll, a370ClusterLines, a370ClusterCurve, ewCutTop, {
        xAxis: false, yAxis: true, legend: true, label: "A370: Cluster", labelX: 12,
        padding: { top: 17, right: 8, bottom: 14, left: 0 },
      });
      panel("a370Parallel", a370ParallelAll, a370ParallelLines, a370ParallelCurve, ewCutTop, {
        xAxis: false, yAxis: false, label: "A370: Parallel", labelX: 12,
        padding: { top: 17, right: 14, bottom: 14, left: 32 },
      });
      panel("m1149Cluster", m1149ClusterAll, m1149ClusterLines, m1149ClusterCurve, ewCutBottom, {
        xAxis: true, yAxis: true, label: "M1149: Cluster", labelX: 10,
        padding: { top: 10, right: 8, bottom: 0, left: 0 },
      });
      panel("m1149Parallel", m1149ParallelAll, m1149ParallelLines, m1149ParallelCurve, ewCutBottom, {
        xAxis: true, yAxis: false, label: "M1149: Parallel", labelX: 10,
        padding: { top: 10, right: 14, bottom: 0, left: 32 },
      });

      // colour bar: one floating bar with the viridis ramp
      const zLabelPlugin = {
        id: "zLabel",
        afterDraw(chart) {
          const { ctx, chartArea: a } = chart;
          ctx.save();
          ctx.strokeStyle = spine;
          ctx.lineWidth = 4;
          ctx.strokeRect(a.left, a.top, a.right - a.left, a.bottom - a.top);
          ctx.fillStyle = spine;
          ctx.font = "36px 'DejaVu Sans'";
          ctx.textAlign = "center";
          ctx.textBaseline = "middle";
          ctx.fillText("Z", 124, (a.top + a.bottom) / 2);
          ctx.restore();
        },
      };

      new Chart(document.getElementById("colorbar"), {
        type: "bar",
        data: {
          labels: ["Z"],
          datasets: [
            {
              data: [[0, 6]],
              barPercentage: 1,
              categoryPercentage: 1,
              backgroundColor: (c) => {
                const a = c.chart.chartArea;
                if (!a) return viridisStops[0];
                const g = c.chart.ctx.createLinearGradient(0, a.bottom, 0, a.top);
                viridisStops.forEach((s, i) => g.addColorStop(i / (viridisStops.length - 1), s));
                return g;
              },
            },
          ],
        },
        options: {
          layout: { padding: { top: 17, right: 0, bottom: 46, left: 8 } },
          plugins: { legend: { display: false }, tooltip: { enabled: false } },
          scales: {
            x: { display: false },
            y: {
              position: "right",
              min: 0,
              max: 6,
              afterBuildTicks: (s) => { s.ticks = zTicks.map((v) => ({ value: v })); },
              afterFit: (s) => {
                s.width = 95;
                s.paddingTop = 0;
                s.paddingBottom = 0;
              },
              border: { display: false },
              grid: { drawOnChartArea: false, tickLength: 18, tickWidth: 4.2, tickColor: spine },
              ticks: { font: { size: 33 }, padding: 12, callback: (v) => String(v) },
            },
          },
        },
        plugins: [zLabelPlugin],
      });
    </script>
  </body>
</html>
